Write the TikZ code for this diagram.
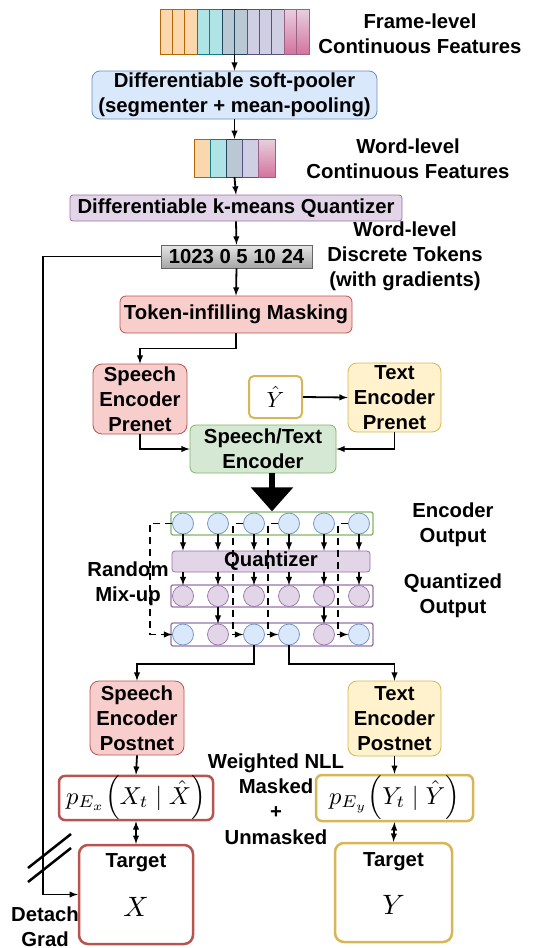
\documentclass[tikz,border=0pt]{standalone}
\usepackage[no-math]{fontspec}
\setmainfont{Liberation Sans}
\usetikzlibrary{arrows.meta}
\definecolor{bluefill}{HTML}{DAE8FC}\definecolor{blueline}{HTML}{6C8EBF}
\definecolor{redfill}{HTML}{F8CECC}\definecolor{redline}{HTML}{B85450}
\definecolor{yelfill}{HTML}{FFF2CC}\definecolor{yelline}{HTML}{D6B656}
\definecolor{grnfill}{HTML}{D5E8D4}\definecolor{grnline}{HTML}{82B366}
\definecolor{purfill}{HTML}{E1D5E7}\definecolor{purline}{HTML}{9673A6}
\definecolor{orfill}{HTML}{FAD7AC}\definecolor{orline}{HTML}{B46504}
\definecolor{tefill}{HTML}{B0E3E6}\definecolor{teline}{HTML}{0E8088}
\definecolor{bgfill}{HTML}{BAC8D3}\definecolor{bgline}{HTML}{23445D}
\definecolor{lafill}{HTML}{D0CEE2}\definecolor{laline}{HTML}{56517E}
\definecolor{pktop}{HTML}{E6D0DE}\definecolor{pkbot}{HTML}{D5739D}\definecolor{pkline}{HTML}{996185}
\newcommand{\diagfont}{\fontsize{20.3}{24.8}\selectfont\bfseries}
\tikzset{
    box/.style={draw, rounded corners=6pt, align=center, inner sep=0pt, font=\diagfont, line width=0.8pt},
    bluebox/.style={box, fill=bluefill, draw=blueline},
    redbox/.style={box, fill=redfill, draw=redline},
    yelbox/.style={box, fill=yelfill, draw=yelline},
    grnbox/.style={box, fill=grnfill, draw=grnline},
    purbox/.style={box, fill=purfill, draw=purline, rounded corners=3pt},
    lbl/.style={align=center, font=\diagfont, inner sep=0pt},
    mathlbl/.style={inner sep=0pt},
    probbox/.style={draw, rounded corners=6pt, line width=2.5pt, inner sep=0pt, fill=white},
    tgtbox/.style={draw, rounded corners=9pt, line width=2.5pt, inner sep=0pt, fill=white},
    row/.style={draw, rounded corners=2pt, line width=1.3pt, inner sep=0pt, minimum width=202pt},
    bcirc/.style={circle, draw=blueline, fill=bluefill, minimum size=21pt, inner sep=0pt, line width=0.7pt},
    pcirc/.style={circle, draw=purline, fill=purfill, minimum size=21pt, inner sep=0pt, line width=0.7pt},
    cor/.style={fill=orfill, draw=orline, line width=0.7pt},
    cte/.style={fill=tefill, draw=teline, line width=0.7pt},
    cbg/.style={fill=bgfill, draw=bgline, line width=0.7pt},
    cla/.style={fill=lafill, draw=laline, line width=0.7pt},
    cpk/.style={top color=pktop, bottom color=pkbot, draw=pkline, line width=0.7pt},
    arr/.style={-latex, line width=1.8pt},
    darr/.style={latex-latex, line width=1.8pt},
    dasharr/.style={-latex, line width=1.8pt, dash pattern=on 7pt off 5pt}
}
\begin{document}
\begin{tikzpicture}[x=1pt, y=-1pt]
        \useasboundingbox (0,0) rectangle (539,948);
        \node[minimum width=149pt, minimum height=45pt, inner sep=0pt] (frames) at (234.5,31.5) {};
        \foreach \c [count=\i from 0] in {cor,cor,cor,cte,cte,cbg,cbg,cla,cla,cla,cpk,cpk}
            \draw[\c] (160+\i*12.42,9) rectangle ++(12.42,45);
        \node[lbl] (lframe) at (420,34) {Frame-level\\Continuous Features};
        \node[bluebox, minimum width=285pt, minimum height=48pt, rounded corners=8pt] (pool) at (234.5,95) {Differentiable soft-pooler\\(segmenter + mean-pooling)};
        \node[minimum width=81pt, minimum height=38pt, inner sep=0pt] (words) at (234.5,158) {};
        \foreach \c [count=\i from 0] in {cor,cte,cbg,cla,cpk}
            \draw[\c] (194+\i*16.2,139) rectangle ++(16.2,38);
        \node[lbl] (lword) at (408,159) {Word-level\\Continuous Features};
        \node[purbox, minimum width=332pt, minimum height=26pt] (kmq) at (236,208) {Differentiable k-means Quantizer};
        \node[box, top color=white!60!lightgray, bottom color=gray!70, draw=black!60, rounded corners=0pt, minimum width=151pt, minimum height=23pt] (tok) at (236.5,256.5) {1023 0 5 10 24};
        \node[lbl] (ltok) at (405,256) {Word-level\\Discrete Tokens\\(with gradients)};
        \node[redbox, minimum width=232pt, minimum height=37pt] (mask) at (236,314.5) {Token-infilling Masking};
        \node[redbox, minimum width=94pt, minimum height=70pt, rounded corners=9pt] (spre) at (140,399) {Speech\\Encoder\\Prenet};
        \node[draw=yelline, line width=2pt, rounded corners=5pt, minimum width=53pt, minimum height=42pt, inner sep=0pt] (yhat) at (275.5,397) {\scalebox{2.2}{$\hat{Y}$}};
        \node[yelbox, minimum width=93pt, minimum height=69pt, rounded corners=9pt] (tpre) at (394.5,397.5) {Text\\Encoder\\Prenet};
        \node[grnbox, minimum width=146pt, minimum height=48pt] (enc) at (263,449) {Speech/Text\\Encoder};
        \node[row, draw=grnline, minimum height=23pt] (eo) at (272,523.5) {};
        \node[purbox, minimum width=198pt, minimum height=21pt] (qz) at (271,561.5) {Quantizer};
        \node[row, draw=purline, minimum height=22pt] (qo) at (272,596) {};
        \node[row, draw=purline, minimum height=23pt] (mo) at (272,634.5) {};
        \node[lbl] (lenc) at (453,525) {Encoder\\Output};
        \node[lbl] (lqo) at (453,596) {Quantized\\Output};
        \node[lbl] (lmix) at (128,583.5) {Random\\Mix-up};
        \foreach \x [count=\i] in {183,218,254,289,324,359} {
            \node[bcirc] (e\i) at (\x,523.5) {};
            \node[pcirc] (q\i) at (\x,596) {};
            \draw[arr] (e\i.south) -- (e\i.south |- qz.north);
            \draw[arr] (q\i.north |- qz.south) -- (q\i.north);
        }
        \foreach \x/\s [count=\i] in {183/bcirc,218/pcirc,254/bcirc,289/bcirc,324/pcirc,359/bcirc}
            \node[\s] (m\i) at (\x,634.5) {};
        \draw[arr] (q2.south) -- (m2.north);
        \draw[arr] (q5.south) -- (m5.north);
        \draw[dasharr] (e1.west) -- (150,523.5) |- (m1.west);
        \foreach \i in {3,4,6}
            \draw[dasharr] (e\i.west) -- ++(-10,0) |- (m\i.west);
        \draw[line width=6pt, -{Triangle[length=24pt, width=41pt]}] (eo.north |- enc.south) -- (eo.north);
        \node[redbox, minimum width=94pt, minimum height=74pt, rounded corners=9pt] (spost) at (137,718) {Speech\\Encoder\\Postnet};
        \node[yelbox, minimum width=93pt, minimum height=75pt, rounded corners=9pt] (tpost) at (394.5,718.5) {Text\\Encoder\\Postnet};
        \node[probbox, draw=redline, minimum width=154pt, minimum height=44pt] (px) at (136,798) {\scalebox{2.45}{$p_{E_x}\Big(X_t \mid \hat{X}\Big)$}};
        \node[probbox, draw=yelline, minimum width=157pt, minimum height=46pt] (py) at (394.5,798) {\scalebox{2.45}{$p_{E_y}\Big(Y_t \mid \hat{Y}\Big)$}};
        \node[lbl, font=\fontsize{20.3}{25.3}\selectfont\bfseries] (lnll) at (276,799) {Weighted NLL\\Masked\\+\\Unmasked};
        \node[tgtbox, draw=redline, minimum width=114pt, minimum height=99pt] (tgtx) at (136,894.5) {};
        \node[tgtbox, draw=yelline, minimum width=117pt, minimum height=99pt] (tgty) at (393.5,892.5) {};
        \node[lbl] (ltx) at ([yshift=-19pt]tgtx.north) {Target};
        \node[mathlbl] (ltxv) at ([yshift=-12.5pt]tgtx.center) {\scalebox{2.8}{$X$}};
        \node[lbl] (lty) at ([yshift=-20pt]tgty.north) {Target};
        \node[mathlbl] (ltyv) at ([yshift=-12.5pt]tgty.center) {\scalebox{2.8}{$Y$}};
        \node[lbl] (ldet) at (45,927) {Detach\\Grad};
        \draw[arr] (frames.south) -- (pool.north);
        \draw[arr] (pool.south) -- (words.north);
        \draw[arr] (words.south) -- (kmq.north);
        \draw[arr] (kmq.south) -- (tok.north);
        \draw[arr] (tok.south) -- (mask.north);
        \draw[arr] (mask.south) -- ++(0,15) -| (spre.north);
        \draw[arr] (yhat.east) -- (tpre.west);
        \draw[arr] (spre.south) |- (enc.west);
        \draw[arr] (tpre.south) |- (enc.east);
        \draw[arr] (m3.south) -- ++(0,19) -| (spost.north);
        \draw[arr] (m4.south) -- ++(0,19) -| (tpost.north);
        \draw[arr] (spost.south) -- (px.north);
        \draw[arr] (tpost.south) -- (py.north);
        \draw[darr] (px.south) -- (tgtx.north);
        \draw[darr] (py.south) -- (tgty.north);
        \draw[arr] (tok.west) -- ++(-118,0) |- (tgtx.west);
        \draw[line width=2.5pt] (28,868) -- (71,834);
        \draw[line width=2.5pt] (28,882) -- (71,848);
\end{tikzpicture}
\end{document}
